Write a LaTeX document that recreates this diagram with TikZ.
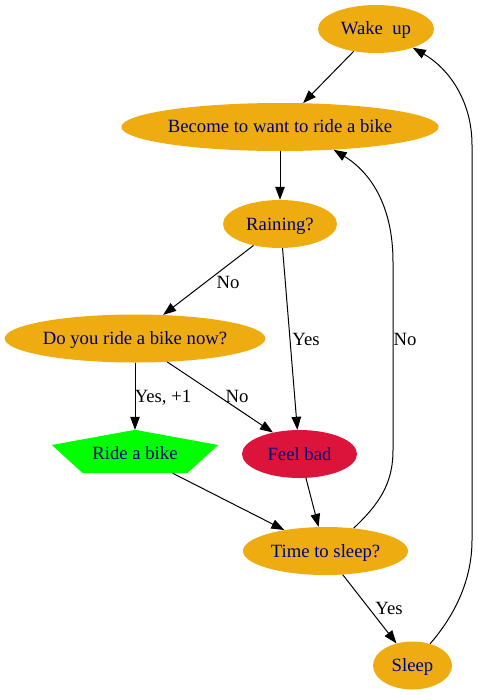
\documentclass[tikz,border=0pt]{standalone}
\usepackage{fontspec}
\setmainfont{Liberation Serif}
\usepackage{tikz}
\usetikzlibrary{arrows.meta,shapes.geometric,calc,backgrounds}
\definecolor{Orangebike}{RGB}{238,172,16}
\definecolor{Navytext}{RGB}{0,0,128}
\definecolor{Crimsonbad}{RGB}{220,20,60}
\definecolor{Greenride}{RGB}{0,255,0}
\tikzset{
  state/.style={ellipse, fill=Orangebike, text=Navytext, inner sep=0pt,
    minimum height=48bp, text height=15bp, text depth=3bp},
  badstate/.style={state, fill=Crimsonbad},
  ridestate/.style={rectangle, text=Navytext, inner sep=0pt,
    minimum width=104bp, minimum height=43bp, text height=16.5bp, text depth=1.5bp},
  flow/.style={line width=1bp, -{Triangle[length=13bp,width=9.5bp]}},
  lbl/.style={anchor=base, inner sep=0pt}
}

\begin{document}
\begin{tikzpicture}[x=1bp,y=-1bp,font=\fontsize{18.7bp}{22bp}\selectfont]
\useasboundingbox (0,0) rectangle (478,695);
%
\node[state, minimum width=116bp] (wake)   at (376,29)    {Wake~~up};
\node[state, minimum width=312bp] (become) at (280,127)   {Become to want to ride a bike};
\node[state, minimum width=114bp] (rain)   at (280,224)   {Raining?};
\node[state, minimum width=260bp] (ask)    at (135,338.5) {Do you ride a bike now?};
\node[ridestate]                  (ride)   at (135,451.5) {Ride a bike};
\node[badstate, minimum width=115bp] (feel) at (299.5,454) {Feel bad};
\node[state, minimum width=165bp] (time)   at (325.5,551) {Time to sleep?};
\node[state, minimum width=79bp]  (sleep)  at (412.5,665.5) {Sleep};
%
\begin{scope}[on background layer]
\fill[Greenride] (ride.north) -- ([xshift=-31bp,yshift=6.5bp]ride.west) -- (ride.south west)
  -- (ride.south east) -- ([xshift=31bp,yshift=6.5bp]ride.east) -- cycle;
\end{scope}
%
\draw[flow] (wake.-135) -- (become.46);
\draw[flow] (become.south) -- (rain.north);
\draw[flow] (rain.-141) -- (ask.40);
\draw[flow] (rain.-84) -- (feel.95);
\draw[flow] (ask.south) -- (ride.north);
\draw[flow] (ask.-36) -- (feel.141);
\draw[flow] (ride.-30) -- (time.153);
\draw[flow] (feel.-75) -- (time.106);
\draw[flow] (time.-54) -- (sleep.126);
\draw[flow] (time.39) .. controls (378,505) and (393,485) .. (393,450) -- (393,262)
  .. controls (393,205) and (370,172) .. (become.-23);
\draw[flow] (sleep.51) .. controls (455,615) and (472,580) .. (472,540) -- (472,145)
  .. controls (472,100) and (448,68) .. (wake.-27);
%
\node[lbl] (lno1)  at (228,288) {No};
\node[lbl] (lyes1) at (306,345) {Yes};
\node[lbl] (lyes2) at (163,402) {Yes, +1};
\node[lbl] (lno2)  at (237,402) {No};
\node[lbl] (lno3)  at (405,345) {No};
\node[lbl] (lyes3) at (389,614) {Yes};
%
\end{tikzpicture}
\end{document}
